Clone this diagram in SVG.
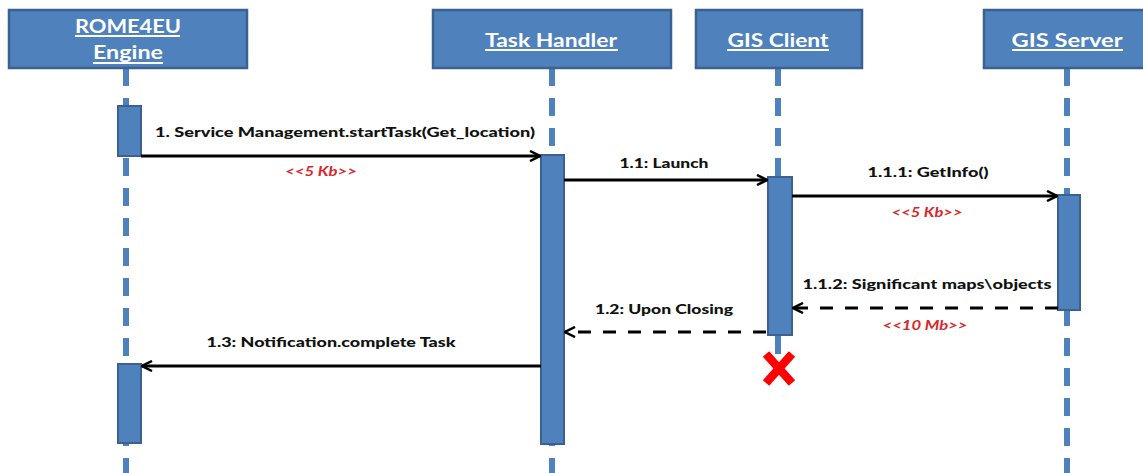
<svg xmlns="http://www.w3.org/2000/svg" width="1143" height="473" viewBox="0 0 1143 473">
  <style>
    .hdr{fill:#4f81bd;stroke:#3a6190;stroke-width:2.5}
    .htxt{font-family:Lato,"Liberation Sans",sans-serif;font-weight:bold;font-size:19px;fill:#ffffff;text-anchor:middle}
    .uline{stroke:#ffffff;stroke-width:2}
    .life{stroke:#4f81bd;stroke-width:6;stroke-dasharray:18 12;fill:none}
    .act{fill:#4f81bd;stroke:#3a6190;stroke-width:2}
    .msg{stroke:#000000;stroke-width:3;fill:none}
    .dash{stroke-dasharray:13 12}
    .lbl{font-family:Lato,"Liberation Sans",sans-serif;font-weight:900;font-size:14px;fill:#111111;text-anchor:middle}
    .red{font-family:Lato,"Liberation Sans",sans-serif;font-weight:bold;font-style:italic;font-size:13px;fill:#d9262a;text-anchor:middle}
  </style>
  <defs>
    <marker id="arr" viewBox="0 0 12 12" refX="11" refY="6" markerWidth="12" markerHeight="12" markerUnits="userSpaceOnUse" orient="auto">
      <path d="M1,1 L11,6 L1,11" fill="none" stroke="#000" stroke-width="2.5" stroke-linejoin="miter"/>
    </marker>
  </defs>

  <rect width="1143" height="473" fill="#ffffff"/>

  <!-- lifelines -->
  <g id="lifelines">
    <line class="life" x1="126" y1="68" x2="126" y2="473"/>
    <line class="life" x1="552" y1="68" x2="552" y2="473"/>
    <line class="life" x1="778" y1="68" x2="778" y2="177"/>
    <line x1="778" y1="335" x2="778" y2="354" stroke="#4f81bd" stroke-width="6"/>
    <line class="life" x1="1067" y1="68" x2="1067" y2="473"/>
  </g>

  <!-- nodes -->
  <g id="engine">
    <rect class="hdr" x="9" y="10" width="238" height="58"/>
    <text class="htxt" x="128" y="33" textLength="106" lengthAdjust="spacingAndGlyphs">ROME4EU</text>
    <line class="uline" x1="75" y1="36" x2="180" y2="36"/>
    <text class="htxt" x="128" y="59" textLength="70" lengthAdjust="spacingAndGlyphs">Engine</text>
    <line class="uline" x1="93" y1="63" x2="163" y2="63"/>
    <rect class="act" x="118" y="106" width="23" height="50"/>
    <rect class="act" x="118" y="364" width="23" height="79"/>
  </g>
  <g id="taskhandler">
    <rect class="hdr" x="433" y="10" width="238" height="58"/>
    <text class="htxt" x="551" y="47" textLength="132" lengthAdjust="spacingAndGlyphs">Task Handler</text>
    <line class="uline" x1="485" y1="50" x2="618" y2="50"/>
    <rect class="act" x="541" y="155" width="23" height="289"/>
  </g>
  <g id="gisclient">
    <rect class="hdr" x="696" y="10" width="166" height="58"/>
    <text class="htxt" x="778" y="47" textLength="101" lengthAdjust="spacingAndGlyphs">GIS Client</text>
    <line class="uline" x1="727" y1="50" x2="829" y2="50"/>
    <rect class="act" x="768" y="177" width="24" height="158"/>
    <g id="destroy" stroke="#ff0000" stroke-width="8.5" stroke-linecap="butt">
      <line x1="766" y1="354" x2="792" y2="383"/>
      <line x1="792" y1="354" x2="766" y2="383"/>
    </g>
  </g>
  <g id="gisserver">
    <rect class="hdr" x="984" y="10" width="170" height="58"/>
    <text class="htxt" x="1067" y="47" textLength="111" lengthAdjust="spacingAndGlyphs">GIS Server</text>
    <line class="uline" x1="1012" y1="50" x2="1123" y2="50"/>
    <rect class="act" x="1058" y="195" width="22" height="115"/>
  </g>

  <!-- connectors -->
  <g id="connectors">
    <line class="msg" x1="141" y1="156" x2="540" y2="156" marker-end="url(#arr)"/>
    <line class="msg" x1="564" y1="180" x2="767" y2="180" marker-end="url(#arr)"/>
    <line class="msg" x1="792" y1="196" x2="1057" y2="196" marker-end="url(#arr)"/>
    <line class="msg dash" x1="1058" y1="308" x2="793" y2="308" marker-end="url(#arr)"/>
    <line class="msg dash" x1="766" y1="332" x2="565" y2="332" marker-end="url(#arr)"/>
    <line class="msg" x1="541" y1="366" x2="142" y2="366" marker-end="url(#arr)"/>
  </g>

  <!-- labels -->
  <g id="labels">
    <text class="lbl" x="345" y="137" textLength="380" lengthAdjust="spacingAndGlyphs">1. Service Management.startTask(Get_location)</text>
    <text class="red" x="321" y="176" textLength="72" lengthAdjust="spacingAndGlyphs">&lt;&lt;5 Kb&gt;&gt;</text>
    <text class="lbl" x="664" y="168" textLength="89" lengthAdjust="spacingAndGlyphs">1.1: Launch</text>
    <text class="lbl" x="928" y="177" textLength="121" lengthAdjust="spacingAndGlyphs">1.1.1: GetInfo()</text>
    <text class="red" x="927" y="217" textLength="71" lengthAdjust="spacingAndGlyphs">&lt;&lt;5 Kb&gt;&gt;</text>
    <text class="lbl" x="927" y="289" textLength="249" lengthAdjust="spacingAndGlyphs">1.1.2: Significant maps\objects</text>
    <text class="red" x="925" y="330" textLength="85" lengthAdjust="spacingAndGlyphs">&lt;&lt;10 Mb&gt;&gt;</text>
    <text class="lbl" x="664" y="314" textLength="138" lengthAdjust="spacingAndGlyphs">1.2: Upon Closing</text>
    <text class="lbl" x="331" y="347" textLength="249" lengthAdjust="spacingAndGlyphs">1.3: Notification.complete Task</text>
  </g>
</svg>
